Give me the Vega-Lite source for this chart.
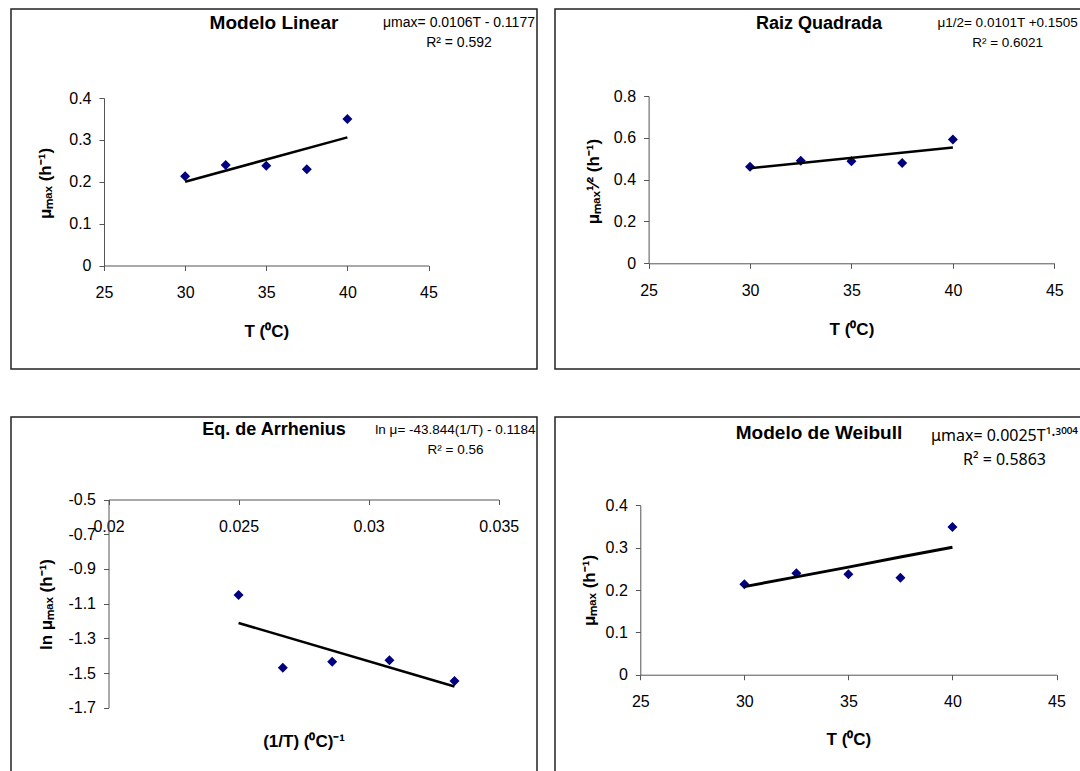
{
  "$schema": "https://vega.github.io/schema/vega-lite/v6.json",
  "padding": {"left": 10, "top": 8, "right": -2, "bottom": -2},
  "background": "white",
  "datasets": {
    "lin": [{"T": 30, "mu": 0.213}, {"T": 32.5, "mu": 0.24}, {"T": 35, "mu": 0.238}, {"T": 37.5, "mu": 0.23}, {"T": 40, "mu": 0.35}],
    "linfit": [{"T": 30, "mu": 0.2}, {"T": 40, "mu": 0.306}],
    "sq": [{"T": 30, "r": 0.462}, {"T": 32.5, "r": 0.49}, {"T": 35, "r": 0.488}, {"T": 37.5, "r": 0.48}, {"T": 40, "r": 0.592}],
    "sqfit": [{"T": 30, "r": 0.455}, {"T": 40, "r": 0.554}],
    "arr": [{"inv": 0.025, "ln": -1.05}, {"inv": 0.0267, "ln": -1.47}, {"inv": 0.0286, "ln": -1.435}, {"inv": 0.0308, "ln": -1.427}, {"inv": 0.0333, "ln": -1.546}],
    "arrfit": [{"inv": 0.025, "ln": -1.212}, {"inv": 0.0333, "ln": -1.578}],
    "wei": [{"T": 30, "mu": 0.2135}, {"T": 32.5, "mu": 0.2394}, {"T": 35, "mu": 0.237}, {"T": 37.5, "mu": 0.229}, {"T": 40, "mu": 0.3488}],
    "weifit": [{"T": 30, "mu": 0.208}, {"T": 32.5, "mu": 0.231}, {"T": 35, "mu": 0.254}, {"T": 37.5, "mu": 0.278}, {"T": 40, "mu": 0.301}]
  },
  "config": {
    "view": {"stroke": "#222", "strokeWidth": 1.5},
    "axis": {
      "grid": false, "domainColor": "#555", "tickColor": "#555", "tickSize": 5,
      "labelFont": "Liberation Sans", "labelFontSize": 16, "labelColor": "#000",
      "titleFont": "Liberation Sans", "titleFontSize": 17, "titleFontWeight": "bold", "titleColor": "#000",
      "labelOverlap": false, "labelFlush": false, "titleAlign": "center", "titleBaseline": "middle", "format": "~g",
      "labelExpr": "replace(datum.label, '−', '-')"
    },
    "axisX": {"labelBaseline": "middle", "labelPadding": 22},
    "axisY": {"labelPadding": 8, "titleAngle": -90},
    "title": {"font": "Liberation Sans", "fontWeight": "bold", "color": "#000", "anchor": "middle", "frame": "group", "baseline": "middle"},
    "text": {"font": "Liberation Sans", "color": "#000"}
  },
  "columns": 2,
  "spacing": {"row": 48, "column": 18},
  "bounds": "flush",
  "concat": [
    {
      "width": 526, "height": 360,
      "title": {"text": "Modelo Linear", "fontSize": 19, "offset": -24},
      "layer": [
        {
          "data": {"name": "lin"},
          "mark": {"type": "point", "shape": "diamond", "filled": true, "color": "#000080", "size": 100, "opacity": 1},
          "encoding": {
            "x": {"field": "T", "type": "quantitative", "scale": {"domain": [25, 45], "range": [93, 417.5], "nice": false, "zero": false},
                  "axis": {"title": "T (⁰C)", "values": [25, 30, 35, 40, 45], "offset": -103.5, "titleY": 65.5}},
            "y": {"field": "mu", "type": "quantitative", "scale": {"domain": [0, 0.4], "range": [256.5, 89], "nice": false, "zero": false},
                  "axis": {"title": "μₘₐₓ (h⁻¹)", "values": [0, 0.1, 0.2, 0.3, 0.4], "offset": -93, "titleX": -58.4, "titleY": 174}}
          }
        },
        {
          "data": {"name": "linfit"},
          "mark": {"type": "line", "color": "#000", "strokeWidth": 2.5},
          "encoding": {"x": {"field": "T", "type": "quantitative"}, "y": {"field": "mu", "type": "quantitative"}}
        },
        {
          "data": {"values": [{"eq": "μmax= 0.0106T - 0.1177\nR² = 0.592"}]},
          "mark": {"type": "text", "align": "center", "baseline": "alphabetic", "lineBreak": "\n", "lineHeight": 20, "fontSize": 14},
          "encoding": {"x": {"datum": 46.88, "type": "quantitative"}, "y": {"datum": 0.57, "type": "quantitative"}, "text": {"field": "eq"}}
        }
      ]
    },
    {
      "width": 528, "height": 360,
      "title": {"text": "Raiz Quadrada", "fontSize": 18, "offset": -24.3},
      "layer": [
        {
          "data": {"name": "sq"},
          "mark": {"type": "point", "shape": "diamond", "filled": true, "color": "#000080", "size": 100, "opacity": 1},
          "encoding": {
            "x": {"field": "T", "type": "quantitative", "scale": {"domain": [25, 45], "range": [93.6, 499.3], "nice": false, "zero": false},
                  "axis": {"title": "T (⁰C)", "values": [25, 30, 35, 40, 45], "offset": -105.7, "titleY": 65.7}},
            "y": {"field": "r", "type": "quantitative", "scale": {"domain": [0, 0.8], "range": [254.3, 87], "nice": false, "zero": false},
                  "axis": {"title": "μₘₐₓ¹⁄² (h⁻¹)", "values": [0, 0.2, 0.4, 0.6, 0.8], "offset": -93.6, "titleX": -55.6, "titleY": 172}}
          }
        },
        {
          "data": {"name": "sqfit"},
          "mark": {"type": "line", "color": "#000", "strokeWidth": 2.5},
          "encoding": {"x": {"field": "T", "type": "quantitative"}, "y": {"field": "r", "type": "quantitative"}}
        },
        {
          "data": {"values": [{"eq": "μ1/2= 0.0101T +0.1505\nR² = 0.6021"}]},
          "mark": {"type": "text", "align": "center", "baseline": "alphabetic", "lineBreak": "\n", "lineHeight": 20, "fontSize": 13.5},
          "encoding": {"x": {"datum": 42.7, "type": "quantitative"}, "y": {"datum": 1.1277, "type": "quantitative"}, "text": {"field": "eq"}}
        }
      ]
    },
    {
      "width": 526, "height": 357,
      "title": {"text": "Eq. de Arrhenius", "fontSize": 18, "offset": -22.3},
      "layer": [
        {
          "data": {"name": "arr"},
          "mark": {"type": "point", "shape": "diamond", "filled": true, "color": "#000080", "size": 100, "opacity": 1},
          "encoding": {
            "x": {"field": "inv", "type": "quantitative", "scale": {"domain": [0.02, 0.035], "range": [97.5, 487.7], "nice": false, "zero": false},
                  "axis": {"title": "(1/T) (⁰C)⁻¹", "values": [0.02, 0.025, 0.03, 0.035], "offset": -274.5, "titleY": 241.5}},
            "y": {"field": "ln", "type": "quantitative", "scale": {"domain": [-1.7, -0.5], "range": [290.7, 82.5], "nice": false, "zero": false},
                  "axis": {"title": "ln μₘₐₓ (h⁻¹)", "values": [-1.7, -1.5, -1.3, -1.1, -0.9, -0.7, -0.5], "offset": -97.5, "titleX": -62.5, "titleY": 187}}
          }
        },
        {
          "data": {"name": "arrfit"},
          "mark": {"type": "line", "color": "#000", "strokeWidth": 2.5},
          "encoding": {"x": {"field": "inv", "type": "quantitative"}, "y": {"field": "ln", "type": "quantitative"}}
        },
        {
          "data": {"values": [{"eq": "ln μ= -43.844(1/T) - 0.1184\nR² = 0.56"}]},
          "mark": {"type": "text", "align": "center", "baseline": "alphabetic", "lineBreak": "\n", "lineHeight": 20, "fontSize": 13.5},
          "encoding": {"x": {"datum": 0.033339, "type": "quantitative"}, "y": {"datum": -0.1196, "type": "quantitative"}, "text": {"field": "eq"}}
        }
      ]
    },
    {
      "width": 528, "height": 357,
      "title": {"text": "Modelo de Weibull", "fontSize": 19, "offset": -26.3},
      "layer": [
        {
          "data": {"name": "wei"},
          "mark": {"type": "point", "shape": "diamond", "filled": true, "color": "#000080", "size": 100, "opacity": 1},
          "encoding": {
            "x": {"field": "T", "type": "quantitative", "scale": {"domain": [25, 45], "range": [85.3, 501.5], "nice": false, "zero": false},
                  "axis": {"title": "T (⁰C)", "values": [25, 30, 35, 40, 45], "offset": -99.3, "titleY": 64.3}},
            "y": {"field": "mu", "type": "quantitative", "scale": {"domain": [0, 0.4], "range": [257.7, 88.3], "nice": false, "zero": false},
                  "axis": {"title": "μₘₐₓ (h⁻¹)", "values": [0, 0.1, 0.2, 0.3, 0.4], "offset": -85.3, "titleX": -50.8, "titleY": 173}}
          }
        },
        {
          "data": {"name": "weifit"},
          "mark": {"type": "line", "color": "#000", "strokeWidth": 3},
          "encoding": {"x": {"field": "T", "type": "quantitative"}, "y": {"field": "mu", "type": "quantitative"}}
        },
        {
          "data": {"values": [{"eq": "μmax= 0.0025T¹·³⁰⁰⁴\nR² = 0.5863"}]},
          "mark": {"type": "text", "align": "center", "baseline": "alphabetic", "lineBreak": "\n", "lineHeight": 24, "fontSize": 16, "font": "Noto Sans"},
          "encoding": {"x": {"datum": 42.5, "type": "quantitative"}, "y": {"datum": 0.551, "type": "quantitative"}, "text": {"field": "eq"}}
        }
      ]
    }
  ]
}
